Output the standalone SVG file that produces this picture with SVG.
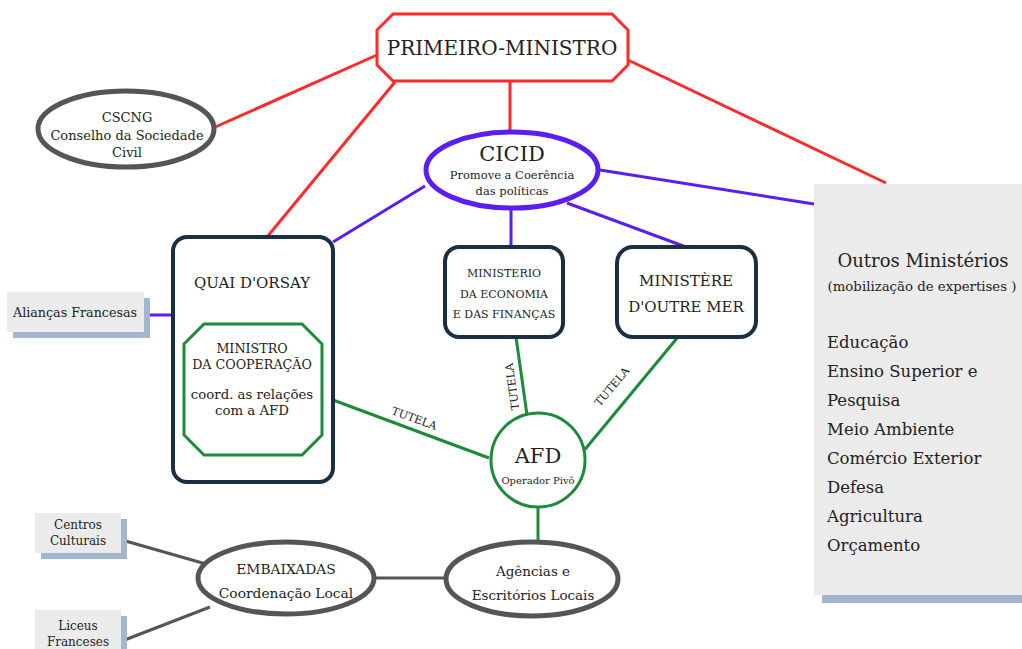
<svg xmlns="http://www.w3.org/2000/svg" width="1022" height="649" viewBox="0 0 1022 649">
<style>
text{font-family:"DejaVu Serif","Liberation Serif",serif;fill:#222;text-anchor:middle}
.red{stroke:#ff2a2a;stroke-width:3;fill:none}
.pur{stroke:#5a1ff0;stroke-width:3;fill:none}
.grn{stroke:#1d8a3b;stroke-width:3;fill:none}
.gry{stroke:#555;stroke-width:3;fill:none}
.navy{stroke:#1b2e44;stroke-width:4;fill:#fff}
.oval{stroke:#555;stroke-width:5;fill:#fff}
.card{fill:#ebebeb}
.shadow{fill:#a4b5cf}
.lbl{font-size:11px}
.ls{text-anchor:start}
</style>
<g id="connectors">
<line class="red" x1="377" y1="55" x2="213" y2="128"/>
<line class="red" x1="395" y1="82" x2="267" y2="237"/>
<line class="red" x1="510" y1="81" x2="510" y2="132"/>
<line class="red" x1="628" y1="60" x2="886" y2="183"/>
<line class="pur" x1="425" y1="186" x2="333" y2="242"/>
<line class="pur" x1="511" y1="208" x2="511" y2="247"/>
<line class="pur" x1="567" y1="203" x2="686" y2="247"/>
<line class="pur" x1="600" y1="170" x2="814" y2="204"/>
<line class="pur" x1="150" y1="315" x2="173" y2="315"/>
<line class="grn" x1="333" y1="400" x2="489" y2="458"/>
<line class="grn" x1="516" y1="337" x2="527" y2="415"/>
<line class="grn" x1="678" y1="337" x2="582" y2="453"/>
<line class="grn" x1="538" y1="507" x2="538" y2="542"/>
<line class="gry" x1="374" y1="578" x2="446" y2="578"/>
<line class="gry" x1="122" y1="540" x2="206" y2="564"/>
<line class="gry" x1="122" y1="641" x2="210" y2="607"/>
<text class="lbl" transform="translate(413,422) rotate(20)">TUTELA</text>
<text class="lbl" transform="translate(516,386) rotate(-98)">TUTELA</text>
<text class="lbl" transform="translate(615,389) rotate(-50)">TUTELA</text>
</g>
<g id="primeiro-ministro">
<polygon points="393,14 612,14 628,30 628,65 612,81 393,81 377,65 377,30" fill="#fff" stroke="#ff2a2a" stroke-width="3"/>
<text x="502" y="55" font-size="20">PRIMEIRO-MINISTRO</text>
</g>
<g id="cscng">
<ellipse cx="126" cy="129" rx="88" ry="38" class="oval"/>
<text x="127" y="122" font-size="13">CSCNG</text>
<text x="127" y="140" font-size="13">Conselho da Sociedade</text>
<text x="127" y="157" font-size="13">Civil</text>
</g>
<g id="cicid">
<ellipse cx="512" cy="170" rx="86" ry="38" fill="#fff" stroke="#5a1ff0" stroke-width="5"/>
<text x="512" y="161" font-size="21">CICID</text>
<text x="512" y="179" font-size="11.5">Promove a Coerência</text>
<text x="512" y="195" font-size="11.5">das políticas</text>
</g>
<g id="aliancas">
<rect x="13" y="298" width="137" height="40" class="shadow"/>
<rect x="7" y="292" width="137" height="40" class="card"/>
<text x="75" y="317" font-size="12.7">Alianças Francesas</text>
</g>
<g id="quai">
<rect x="173" y="237" width="160" height="245" rx="14" class="navy"/>
<text x="252" y="288" font-size="15">QUAI D'ORSAY</text>
</g>
<g id="ministro-cooperacao">
<polygon points="204,324 302,324 322,344 322,435 302,455 204,455 184,435 184,344" fill="#fff" stroke="#1d8a3b" stroke-width="3"/>
<text x="252" y="353" font-size="12.7">MINISTRO</text>
<text x="252" y="369" font-size="12.7">DA COOPERAÇÃO</text>
<text x="252" y="399" font-size="13.3">coord. as relações</text>
<text x="252" y="415" font-size="13.3">com a AFD</text>
</g>
<g id="economia">
<rect x="445" y="247" width="118" height="90" rx="14" class="navy"/>
<text x="504" y="277" font-size="11">MINISTERIO</text>
<text x="504" y="298" font-size="11">DA ECONOMIA</text>
<text x="504" y="318" font-size="11">E DAS FINANÇAS</text>
</g>
<g id="outre-mer">
<rect x="617" y="247" width="139" height="90" rx="16" class="navy"/>
<text x="686" y="286" font-size="15">MINISTÈRE</text>
<text x="686" y="312" font-size="15">D'OUTRE MER</text>
</g>
<g id="afd">
<circle cx="538" cy="460" r="47" fill="#fff" stroke="#1d8a3b" stroke-width="3"/>
<text x="538" y="463" font-size="21">AFD</text>
<text x="538" y="484" font-size="10">Operador Pivô</text>
</g>
<g id="outros">
<rect x="822" y="192" width="210" height="411" class="shadow"/>
<rect x="814" y="184" width="210" height="411" class="card"/>
<text x="923" y="267" font-size="18">Outros Ministérios</text>
<text x="922" y="291" font-size="13.3">(mobilização de expertises )</text>
<g font-size="16.5">
<text x="827" y="348" class="ls">Educação</text>
<text x="827" y="377" class="ls">Ensino Superior e</text>
<text x="827" y="406" class="ls">Pesquisa</text>
<text x="827" y="435" class="ls">Meio Ambiente</text>
<text x="827" y="464" class="ls">Comércio Exterior</text>
<text x="827" y="493" class="ls">Defesa</text>
<text x="827" y="522" class="ls">Agricultura</text>
<text x="827" y="551" class="ls">Orçamento</text>
</g>
</g>
<g id="centros">
<rect x="41" y="519" width="86" height="40" class="shadow"/>
<rect x="35" y="513" width="86" height="40" class="card"/>
<text x="78" y="529" font-size="12">Centros</text>
<text x="78" y="545" font-size="12">Culturais</text>
</g>
<g id="liceus">
<rect x="41" y="616" width="86" height="40" class="shadow"/>
<rect x="35" y="610" width="86" height="40" class="card"/>
<text x="78" y="630" font-size="12">Liceus</text>
<text x="78" y="646" font-size="12">Franceses</text>
</g>
<g id="embaixadas">
<ellipse cx="286" cy="578" rx="88" ry="36" class="oval"/>
<text x="286" y="574" font-size="13.8">EMBAIXADAS</text>
<text x="286" y="598" font-size="13.8">Coordenação Local</text>
</g>
<g id="agencias">
<ellipse cx="532" cy="579" rx="86" ry="37" class="oval"/>
<text x="533" y="576" font-size="13.5">Agências e</text>
<text x="533" y="600" font-size="13.5">Escritórios Locais</text>
</g>
</svg>
